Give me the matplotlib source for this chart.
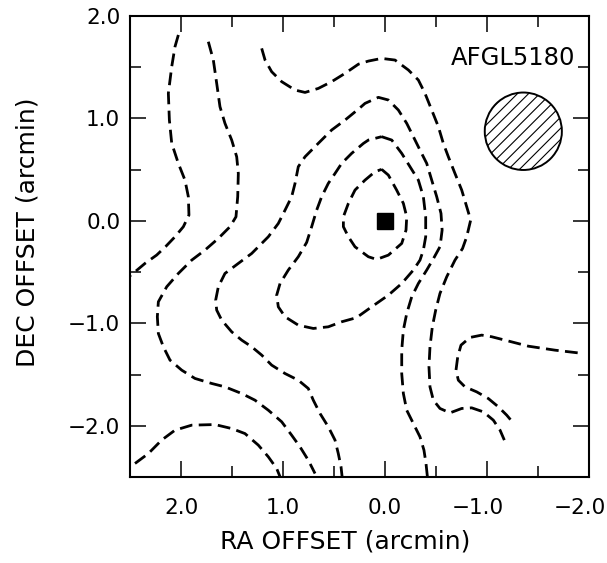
import matplotlib
matplotlib.use('Agg')
import matplotlib.pyplot as plt
from matplotlib.patches import Circle
from matplotlib.ticker import FixedLocator, MultipleLocator
from matplotlib.transforms import ScaledTranslation

plt.rcParams['font.family'] = ['DejaVu Sans']
plt.rcParams['hatch.linewidth'] = 0.8

# contour levels (RA, DEC offsets in arcmin)
# innermost level, closed around the source
lev1_ra = [0.033, -0.033, -0.114, -0.18, -0.213, -0.206, -0.164, -0.033, 0.082, 0.163,
           0.294, 0.359, 0.408, 0.408, 0.359, 0.294, 0.196, 0.098, 0.033]
lev1_dec = [0.503, 0.447, 0.301, 0.171, 0.04, -0.09, -0.22, -0.334, -0.376, -0.35,
            -0.253, -0.155, -0.057, 0.04, 0.171, 0.301, 0.398, 0.48, 0.503]

# second level, closed
lev2_ra = [0.033, -0.066, -0.164, -0.245, -0.327, -0.376, -0.399, -0.399, -0.376, -0.343,
           -0.278, -0.164, -0.033, 0.131, 0.28, 0.425, 0.556, 0.703, 0.85, 0.98,
           1.046, 1.062, 1.029, 0.948, 0.85, 0.768, 0.719, 0.67, 0.621, 0.556,
           0.49, 0.425, 0.327, 0.212, 0.163, 0.033]
lev2_dec = [0.822, 0.789, 0.659, 0.529, 0.398, 0.236, 0.04, -0.155, -0.285, -0.383,
            -0.48, -0.611, -0.725, -0.839, -0.945, -0.985, -1.034, -1.05, -1.018, -0.936,
            -0.839, -0.725, -0.611, -0.48, -0.35, -0.21, -0.057, 0.105, 0.236, 0.366,
            0.463, 0.561, 0.659, 0.756, 0.789, 0.822]

# third level, open at the bottom edge
lev3_ra = [0.418, 0.431, 0.458, 0.49, 0.556, 0.637, 0.703, 0.752, 0.85, 0.98,
           1.111, 1.209, 1.307, 1.405, 1.503, 1.601, 1.65, 1.66, 1.634, 1.569,
           1.438, 1.307, 1.209, 1.144, 1.046, 0.98, 0.915, 0.882, 0.85, 0.784,
           0.654, 0.523, 0.392, 0.25, 0.196, 0.065, -0.033, -0.131, -0.213, -0.278,
           -0.343, -0.409, -0.458, -0.507, -0.549, -0.56, -0.54, -0.474, -0.409, -0.327,
           -0.262, -0.213, -0.18, -0.164, -0.164, -0.18, -0.213, -0.278, -0.343, -0.382,
           -0.402, -0.418]
lev3_dec = [-2.52, -2.401, -2.271, -2.14, -2.01, -1.88, -1.75, -1.636, -1.555, -1.49,
            -1.408, -1.31, -1.229, -1.164, -1.083, -0.969, -0.871, -0.773, -0.643, -0.513,
            -0.415, -0.318, -0.22, -0.155, -0.025, 0.105, 0.236, 0.366, 0.529, 0.626,
            0.757, 0.887, 0.984, 1.10, 1.147, 1.206, 1.18, 1.082, 0.952, 0.822,
            0.691, 0.561, 0.398, 0.236, 0.073, -0.09, -0.25, -0.37, -0.48, -0.611,
            -0.741, -0.904, -1.066, -1.262, -1.49, -1.685, -1.848, -1.978, -2.108, -2.238,
            -2.369, -2.52]

# fourth level (upper arc running down the east side)
lev4_ra = [1.209, 1.176, 1.111, 1.013, 0.882, 0.784, 0.654, 0.523, 0.392, 0.26,
           0.163, 0.033, -0.098, -0.229, -0.327, -0.392, -0.458, -0.523, -0.572, -0.621,
           -0.686, -0.752, -0.801, -0.84, -0.801, -0.76, -0.686, -0.605, -0.539, -0.497,
           -0.464, -0.441, -0.431, -0.441, -0.474, -0.539, -0.637, -0.752, -0.85, -0.964,
           -1.062, -1.128, -1.17]
lev4_dec = [1.684, 1.57, 1.456, 1.359, 1.277, 1.254, 1.293, 1.359, 1.44, 1.53,
            1.56, 1.586, 1.57, 1.473, 1.375, 1.245, 1.082, 0.92, 0.756, 0.626,
            0.463, 0.301, 0.138, 0.008, -0.155, -0.27, -0.383, -0.546, -0.708, -0.871,
            -1.034, -1.229, -1.424, -1.62, -1.75, -1.831, -1.874, -1.831, -1.825, -1.864,
            -1.945, -2.043, -2.14]

# western levels
west1_ra = [2.026, 2.059, 2.091, 2.124, 2.114, 2.091, 2.026, 1.961, 1.928, 1.922,
            1.977, 2.059, 2.15, 2.239, 2.353, 2.451, 2.533]
west1_dec = [1.815, 1.70, 1.505, 1.245, 0.985, 0.757, 0.561, 0.398, 0.236, 0.057,
             -0.057, -0.155, -0.25, -0.334, -0.415, -0.497, -0.562]

west2_ra = [1.732, 1.683, 1.65, 1.618, 1.569, 1.503, 1.454, 1.438, 1.444, 1.461,
            1.52, 1.634, 1.765, 1.895, 2.026, 2.14, 2.222, 2.232, 2.222, 2.173,
            2.108, 1.993, 1.863, 1.699, 1.569, 1.405, 1.275, 1.144, 1.013, 0.915,
            0.833, 0.752, 0.686]
west2_dec = [1.749, 1.57, 1.342, 1.115, 0.952, 0.789, 0.626, 0.463, 0.236, 0.04,
             -0.057, -0.171, -0.285, -0.383, -0.513, -0.643, -0.79, -0.936, -1.099, -1.229,
             -1.359, -1.457, -1.538, -1.587, -1.62, -1.685, -1.75, -1.848, -1.961, -2.092,
             -2.206, -2.336, -2.466]

south_ra = [2.451, 2.32, 2.19, 2.059, 1.895, 1.667, 1.503, 1.373, 1.242, 1.144, 1.062, 1.02]
south_dec = [-2.368, -2.271, -2.14, -2.043, -1.994, -1.988, -2.027, -2.076, -2.189, -2.303, -2.417, -2.52]

# tongue coming in from the east edge
east_ra = [-1.889, -1.667, -1.405, -1.176, -1.046, -0.948, -0.833, -0.745, -0.713, -0.696,
           -0.719, -0.784, -0.899, -1.013, -1.111, -1.193, -1.248]
east_dec = [-1.288, -1.262, -1.223, -1.164, -1.131, -1.115, -1.138, -1.213, -1.327, -1.457,
            -1.555, -1.62, -1.669, -1.734, -1.815, -1.896, -1.961]

source_ra = [0.0]
source_dec = [0.0]
source_name = 'AFGL5180'

beam_ra = -1.356
beam_dec = 0.875
beam_radius = 0.378

x_ticks = [2.0, 1.0, 0.0, -1.0, -2.0]
x_tick_labels = ['2.0', '1.0', '0.0', '\u22121.0', '\u22122.0']
y_ticks = [2.0, 1.0, 0.0, -1.0, -2.0]
y_tick_labels = ['2.0', '1.0', '0.0', '\u22121.0', '\u22122.0']

fig = plt.figure(figsize=(6.07, 5.63), dpi=100)
ax = fig.add_axes([130 / 607, (563 - 477) / 563, 459 / 607, 461 / 563])

contours = [(lev1_ra, lev1_dec), (lev2_ra, lev2_dec), (lev3_ra, lev3_dec),
            (lev4_ra, lev4_dec), (west1_ra, west1_dec), (west2_ra, west2_dec),
            (south_ra, south_dec), (east_ra, east_dec)]
for ra, dec in contours:
    ax.plot(ra, dec, color='black', lw=2.0, dashes=(4.6, 2.3),
            dash_capstyle='butt', dash_joinstyle='round')

ax.plot(source_ra, source_dec, marker='s', ms=11.5, color='black', ls='none')

beam = Circle((beam_ra, beam_dec), beam_radius, facecolor='none', edgecolor='black',
              lw=1.4, hatch='///')
ax.add_patch(beam)

ax.text(-0.65, 1.52, source_name, fontsize=17.5, ha='left', va='baseline')

ax.set_xlim(2.5, -2.0)
ax.set_ylim(-2.5, 2.0)
ax.xaxis.set_major_locator(FixedLocator(x_ticks))
ax.set_xticklabels(x_tick_labels)
ax.yaxis.set_major_locator(FixedLocator(y_ticks))
ax.set_yticklabels(y_tick_labels)
ax.xaxis.set_minor_locator(MultipleLocator(0.5))
ax.yaxis.set_minor_locator(MultipleLocator(0.5))

ax.tick_params(which='both', direction='in', top=True, right=True, width=1.1,
               labelsize=15.5)
ax.tick_params(which='major', length=11.5)
ax.tick_params(which='minor', length=8)
ax.tick_params(axis='x', which='major', pad=15)
ax.tick_params(axis='y', which='major', pad=7)
for sp in ax.spines.values():
    sp.set_linewidth(1.5)

# keep the digits centred on the tick, the minus sign hangs to the left
shift = ScaledTranslation(-6.5 / 72, 0, fig.dpi_scale_trans)
for lab in ax.get_xticklabels():
    if lab.get_text().startswith('\u2212'):
        lab.set_transform(lab.get_transform() + shift)

ax.set_xlabel('RA OFFSET (arcmin)', fontsize=18)
ax.xaxis.set_label_coords(0.4695, -0.113)
ax.set_ylabel('DEC OFFSET (arcmin)', fontsize=18)
ax.yaxis.set_label_coords(-0.198, 0.531)

fig.savefig('out.png', dpi=100)
